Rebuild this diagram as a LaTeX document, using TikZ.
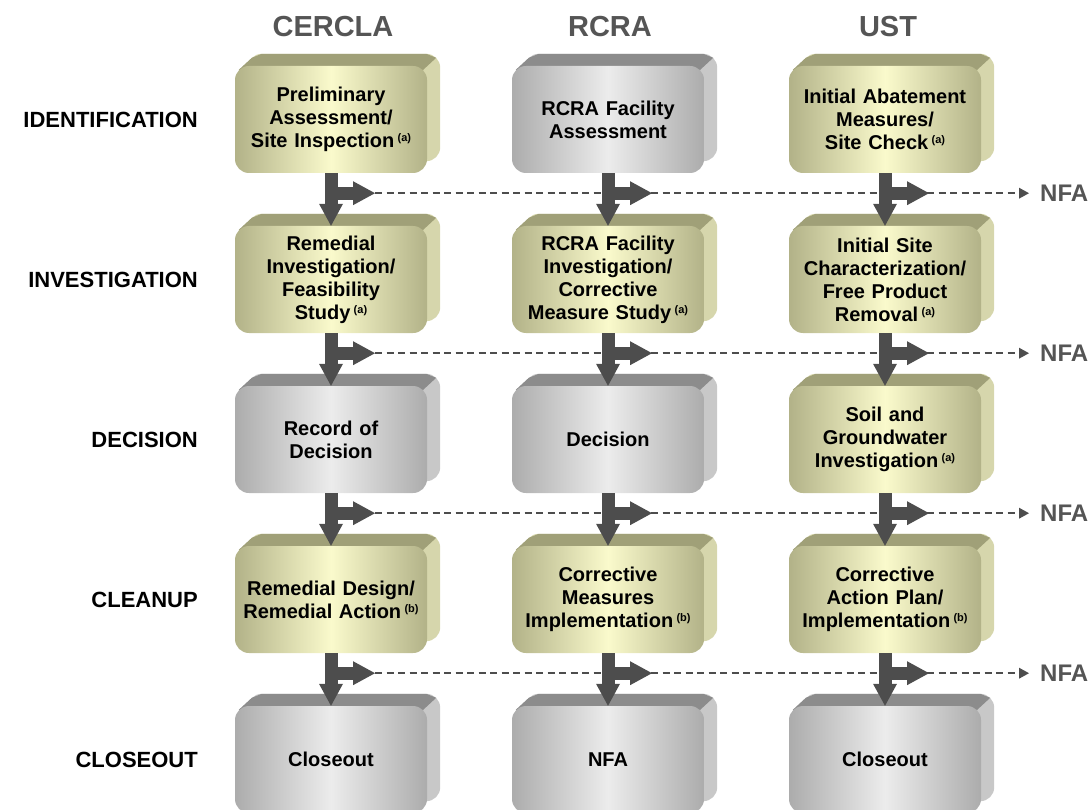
\documentclass[tikz,border=0pt]{standalone}
\usepackage{fontspec}
\setmainfont{Liberation Sans}
\usetikzlibrary{arrows.meta, positioning, calc, backgrounds}

\definecolor{olEdge}{RGB}{178,178,136}
\definecolor{olMid}{RGB}{250,250,204}
\definecolor{olTop}{RGB}{160,160,120}
\definecolor{olSide}{RGB}{214,214,172}
\definecolor{grEdge}{RGB}{172,172,172}
\definecolor{grMid}{RGB}{236,236,236}
\definecolor{grTop}{RGB}{140,140,140}
\definecolor{grSide}{RGB}{200,200,200}
\definecolor{arrgray}{RGB}{77,77,77}
\definecolor{hdgray}{RGB}{85,85,85}

\newcommand{\fn}[1]{\,\raisebox{6pt}{\fontsize{11}{11}\selectfont(#1)}}

\begin{document}
\begin{tikzpicture}[x=1pt,y=-1pt,
  box/.style={rounded corners=14pt, minimum width=192pt, minimum height=107pt,
    align=center, inner sep=2pt, text width=185pt,
    font=\fontsize{20}{23}\selectfont\bfseries},
  olbox/.style={box, left color=olEdge, right color=olEdge, middle color=olMid},
  grbox/.style={box, left color=grEdge, right color=grEdge, middle color=grMid},
  rowlabel/.style={anchor=east, inner sep=0pt, font=\fontsize{22}{26}\selectfont\bfseries},
  colhead/.style={text=hdgray, font=\fontsize{29}{32}\selectfont\bfseries},
  nfalabel/.style={anchor=west, inner sep=0pt, text=hdgray, font=\fontsize{24}{28}\selectfont\bfseries},
  flow/.style={draw=arrgray, line width=13pt, -{Triangle[width=24pt,length=22pt,line width=0pt]}},
  nfaline/.style={draw=arrgray, line width=2pt, dash pattern=on 7pt off 4.5pt,
    shorten >=11pt, -{Triangle[width=11pt,length=10pt,line width=0pt]}}]
  \useasboundingbox (0,0) rectangle (1091,810);

  % column heads
  \node[colhead] (hcer) at (333,27) {CERCLA};
  \node[colhead] (hrcr) at (610,27) {RCRA};
  \node[colhead] (hust) at (888,27) {UST};

  % phases
  \node[rowlabel] (lId)  at (198,119.5) {IDENTIFICATION};
  \node[rowlabel] (lInv) at (198,279.5) {INVESTIGATION};
  \node[rowlabel] (lDec) at (198,439.5) {DECISION};
  \node[rowlabel] (lCln) at (198,599.5) {CLEANUP};
  \node[rowlabel] (lClo) at (198,759.5) {CLOSEOUT};

  % boxes
  \node[olbox] (cerId) at (331,119.5) {Preliminary\\Assessment/\\Site Inspection\fn{a}};
  \node[grbox] (rcrId) at (608,119.5) {RCRA Facility\\Assessment};
  \node[olbox] (ustId) at (885,119.5) {Initial Abatement\\Measures/\\Site Check\fn{a}};

  \node[olbox] (cerInv) at (331,279.5) {Remedial\\Investigation/\\Feasibility\\Study\fn{a}};
  \node[olbox] (rcrInv) at (608,279.5) {RCRA Facility\\Investigation/\\Corrective\\Measure Study\fn{a}};
  \node[olbox] (ustInv) at (885,279.5) {Initial Site\\Characterization/\\Free Product\\Removal\fn{a}};

  \node[grbox] (cerDec) at (331,439.5) {Record of\\Decision};
  \node[grbox] (rcrDec) at (608,439.5) {Decision};
  \node[olbox] (ustDec) at (885,439.5) {Soil and\\Groundwater\\Investigation\fn{a}};

  \node[olbox] (cerCln) at (331,599.5) {Remedial Design/\\Remedial Action\fn{b}};
  \node[olbox] (rcrCln) at (608,599.5) {Corrective\\Measures\\Implementation\fn{b}};
  \node[olbox] (ustCln) at (885,599.5) {Corrective\\Action Plan/\\Implementation\fn{b}};

  \node[grbox] (cerClo) at (331,759.5) {Closeout};
  \node[grbox] (rcrClo) at (608,759.5) {NFA};
  \node[grbox] (ustClo) at (885,759.5) {Closeout};

  % 3d sides
  \begin{scope}[on background layer]
    \foreach \n/\s/\t in {cerId/olSide/olTop, rcrId/grSide/grTop, ustId/olSide/olTop,
        cerInv/olSide/olTop, rcrInv/olSide/olTop, ustInv/olSide/olTop,
        cerDec/grSide/grTop, rcrDec/grSide/grTop, ustDec/olSide/olTop,
        cerCln/olSide/olTop, rcrCln/olSide/olTop, ustCln/olSide/olTop,
        cerClo/grSide/grTop, rcrClo/grSide/grTop, ustClo/grSide/grTop}{
      \fill[\s, rounded corners=14pt] ($(\n.north west)+(13,-12)$) rectangle ($(\n.south east)+(13,-12)$);
      \fill[\t] ($(\n.north west)+(4,4)$) -- ++(13,-12) -- ($(\n.north west)+(27,-12)$)
        -- ($(\n.north east)+(-1,-12)$) -- ($(\n.north east)+(9,-8)$) -- ($(\n.north east)+(-4,4)$) -- cycle;
    }
  \end{scope}

  % junctions
  \foreach \c in {cer,rcr,ust}{
    \foreach \a in {Id,Inv,Dec,Cln}{
      \coordinate (j\c\a) at ($(\c\a.south)+(0,20)$);
      \coordinate (e\c\a) at ($(j\c\a)+(44,0)$);
    }
  }

  % no further action
  \foreach \a in {Id,Inv,Dec,Cln}{
    \node[nfalabel] (nfa\a) at (1040,0 |- ecer\a) {NFA};
    \draw[nfaline] (ecer\a) -- (nfa\a.west);
  }

  % flow arrows
  \foreach \c in {cer,rcr,ust}{
    \foreach \a/\b in {Id/Inv,Inv/Dec,Dec/Cln,Cln/Clo}{
      \draw[flow] (\c\a) -- (\c\b);
      \draw[flow] (j\c\a) -- (e\c\a);
    }
  }
\end{tikzpicture}
\end{document}
